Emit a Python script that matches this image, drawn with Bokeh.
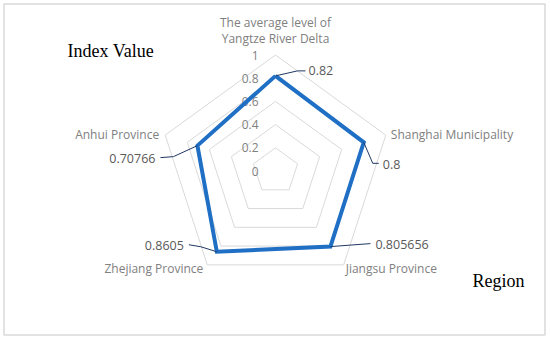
import math
from bokeh.plotting import figure
from bokeh.models import Range1d
from bokeh.core.properties import value
from bokeh.embed import file_html
from bokeh.resources import INLINE

# ---- data ----
categories = ["The average level of\nYangtze River Delta", "Shanghai Municipality",
              "Jiangsu Province", "Zhejiang Province", "Anhui Province"]
values = [0.82, 0.8, 0.805656, 0.8605, 0.70766]
value_labels = ["0.82", "0.8", "0.805656", "0.8605", "0.70766"]
ticks = [0, 0.2, 0.4, 0.6, 0.8, 1.0]
tick_labels = ["0", "0.2", "0.4", "0.6", "0.8", "1"]

# ---- layout ----
W, H = 546, 336
S = 116.0            # pixels per 1.0 of value
CX, CY = 275, 170.5  # center in pixels (from left, from top)
BLUE = "#1F6FC5"
FONT = "Open Sans"

def px(v):
    return v / S

def sx(xpix):
    return (xpix - CX) / S

def sy(ypix):
    return (CY - ypix) / S

n = len(categories)
angles = [math.radians(90 - 72 * i) for i in range(n)]

def polar(r, a):
    return r * math.cos(a), r * math.sin(a)

p = figure(width=W, height=H, output_backend="svg", toolbar_location=None,
           x_range=Range1d(-CX / S, (W - CX) / S),
           y_range=Range1d(-(H - CY) / S, CY / S),
           min_border=0, outline_line_color=None)
p.axis.visible = False
p.grid.visible = False
p.background_fill_color = "white"

# chart border
p.quad(left=[sx(3.5)], right=[sx(544.5)], top=[sy(3.5)], bottom=[sy(334.5)],
       fill_color=None, line_color="#d9d9d9", line_width=1.5)

# grid rings
ring_xs, ring_ys = [], []
for t in ticks[1:]:
    pts = [polar(t, a) for a in angles] + [polar(t, angles[0])]
    ring_xs.append([q[0] for q in pts])
    ring_ys.append([q[1] for q in pts])
p.multi_line(ring_xs, ring_ys, line_color="#d9d9d9", line_width=1)

# tick labels
p.text(x=[px(-17)] * len(ticks), y=[t for t in ticks], text=tick_labels,
       text_align="right", text_baseline="middle", text_font=value(FONT),
       text_font_size="12px", text_color="#7f7f7f")

# data polygon
dpts = [polar(v, a) for v, a in zip(values, angles)]
xs = [q[0] for q in dpts] + [dpts[0][0]]
ys = [q[1] for q in dpts] + [dpts[0][1]]
p.line(xs, ys, line_color=BLUE, line_width=4, line_join="miter")

# leader lines and data labels (pixel offsets from point)
leaders = [
    [(0, 0), (22, 5), (30, 5)],
    [(0, 0), (9, -21), (15, -21)],
    [(0, 0), (40, 3)],
    [(0, 0), (-16, 5), (-28, 7)],
    [(0, 0), (-24, -11), (-37, -12)],
]
label_off = [(33, 5, "left"), (19, -22, "left"), (45, 2, "left"),
             (-33, 6, "right"), (-42, -13, "right")]
lx, ly = [], []
for (x0, y0), seg in zip(dpts, leaders):
    lx.append([x0 + px(dx) for dx, dy in seg])
    ly.append([y0 + px(dy) for dx, dy in seg])
p.multi_line(lx, ly, line_color="#1F3864", line_width=1)
for (x0, y0), (dx, dy, al), t in zip(dpts, label_off, value_labels):
    p.text(x=[x0 + px(dx)], y=[y0 + px(dy)], text=[t], text_align=al,
           text_baseline="middle", text_font=value(FONT), text_font_size="12.5px",
           text_color="#595959")

# category labels (pixel offsets from outer vertex)
cat_off = [(0, 8, "center", "bottom"), (5, 1, "left", "middle"),
           (2, -4, "left", "middle"), (-4, -4, "right", "middle"),
           (-6, 1, "right", "middle")]
for cat, a, (dx, dy, al, bl) in zip(categories, angles, cat_off):
    vx, vy = polar(1.0, a)
    p.text(x=[vx + px(dx)], y=[vy + px(dy)], text=[cat], text_align=al,
           text_baseline=bl, text_font=value(FONT), text_font_size="12px",
           text_color="#808080", text_line_height=0.95)

# axis titles
p.text(x=[sx(67)], y=[sy(50)], text=["Index Value"], text_align="left",
       text_baseline="middle", text_font=value("Liberation Serif"),
       text_font_size="18px", text_color="#000000")
p.text(x=[sx(472)], y=[sy(280)], text=["Region"], text_align="left",
       text_baseline="middle", text_font=value("Liberation Serif"),
       text_font_size="18px", text_color="#000000")

open("out.html", "w").write(file_html(p, INLINE))
